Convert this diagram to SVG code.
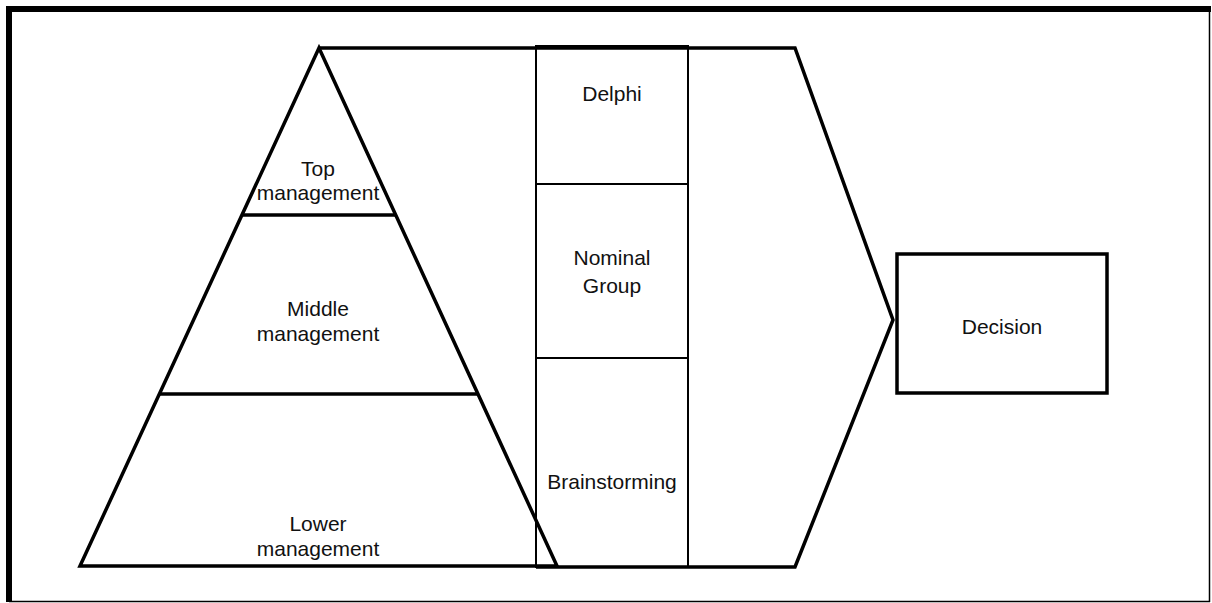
<svg xmlns="http://www.w3.org/2000/svg" width="1212" height="603" viewBox="0 0 1212 603">
  <style>
    .thick { fill: none; stroke: #000; stroke-width: 3.5; stroke-linejoin: miter; }
    .thin { fill: none; stroke: #000; stroke-width: 2; }
    .lbl { font-family: "Liberation Sans", Arial, sans-serif; font-size: 21px; fill: #111; text-anchor: middle; }
  </style>
  <rect width="1212" height="603" fill="#fff"/>

  <!-- outer frame: heavy top/left edges, hairline right/bottom -->
  <g id="frame">
    <line x1="6" y1="9" x2="1211" y2="9" stroke="#000" stroke-width="6"/>
    <line x1="9" y1="6" x2="9" y2="602" stroke="#000" stroke-width="6"/>
    <line x1="1209.5" y1="9" x2="1209.5" y2="602" stroke="#000" stroke-width="1.5"/>
    <line x1="9" y1="601.5" x2="1210" y2="601.5" stroke="#000" stroke-width="1.5"/>
  </g>

  <!-- technique column -->
  <g id="techniques">
    <rect x="536" y="46" width="152" height="521" class="thin"/>
    <line x1="536" y1="184" x2="688" y2="184" class="thin"/>
    <line x1="536" y1="358" x2="688" y2="358" class="thin"/>
  </g>
  <g id="delphi"><text class="lbl" x="612" y="101">Delphi</text></g>
  <g id="nominal-group">
    <text class="lbl" x="612" y="265">Nominal</text>
    <text class="lbl" x="612" y="293">Group</text>
  </g>
  <g id="brainstorming"><text class="lbl" x="612" y="489">Brainstorming</text></g>

  <!-- chevron flowing into the decision -->
  <g id="connectors">
    <polyline class="thick" points="319,48 795,48 893,320 795,567 536,567"/>
  </g>

  <!-- management pyramid -->
  <g id="pyramid">
    <polygon class="thick" points="319,48 557,566 80,566"/>
    <line x1="242" y1="215" x2="396" y2="215" class="thick"/>
    <line x1="160" y1="394" x2="477" y2="394" class="thick"/>
  </g>
  <g id="top-management">
    <text class="lbl" x="318" y="176">Top</text>
    <text class="lbl" x="318" y="200">management</text>
  </g>
  <g id="middle-management">
    <text class="lbl" x="318" y="316">Middle</text>
    <text class="lbl" x="318" y="341">management</text>
  </g>
  <g id="lower-management">
    <text class="lbl" x="318" y="531">Lower</text>
    <text class="lbl" x="318" y="556">management</text>
  </g>

  <g id="decision">
    <rect x="897" y="254" width="210" height="139" class="thick"/>
    <text class="lbl" x="1002" y="334">Decision</text>
  </g>
</svg>
